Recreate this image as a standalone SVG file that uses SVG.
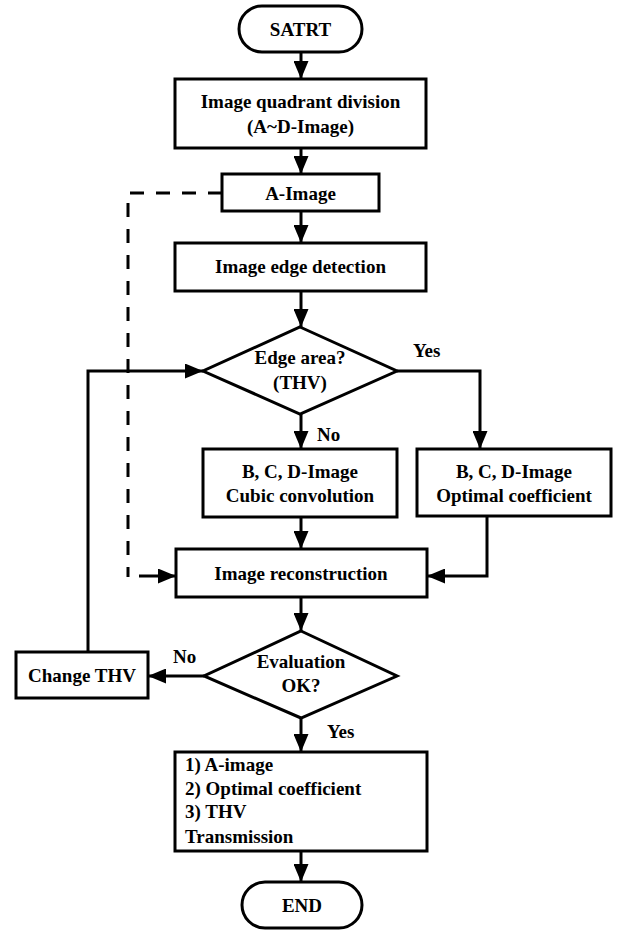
<svg xmlns="http://www.w3.org/2000/svg" width="620" height="932" viewBox="0 0 620 932">
<style>
.n{fill:#fff;stroke:#000;stroke-width:3}
text{font-family:"Liberation Serif","Times New Roman",serif;font-weight:bold;font-size:19px;fill:#000}
.c{text-anchor:middle}
.e{fill:none;stroke:#000;stroke-width:3}
.d{fill:none;stroke:#000;stroke-width:3;stroke-dasharray:14 12}
</style>
<defs>
<marker id="ah" viewBox="0 0 18 15" refX="18" refY="7.5" markerWidth="18" markerHeight="15" markerUnits="userSpaceOnUse" orient="auto"><path d="M0,0 L18,7.5 L0,15 z" fill="#000"/></marker>
</defs>
<rect width="620" height="932" fill="#fff"/>
<g id="connectors">
<path class="e" d="M301,52 V79" marker-end="url(#ah)"/>
<path class="e" d="M301,148 V174" marker-end="url(#ah)"/>
<path class="e" d="M301,211 V243" marker-end="url(#ah)"/>
<path class="e" d="M301,291 V327" marker-end="url(#ah)"/>
<path class="e" d="M397,371 H480 V449" marker-end="url(#ah)"/>
<path class="e" d="M301,414 V449" marker-end="url(#ah)"/>
<path class="e" d="M301,517 V549" marker-end="url(#ah)"/>
<path class="e" d="M487,516 V576 H427" marker-end="url(#ah)"/>
<path class="d" d="M222,193 H128 V577"/>
<path class="e" d="M139,576 H176" marker-end="url(#ah)"/>
<path class="e" d="M301,597 V631" marker-end="url(#ah)"/>
<path class="e" d="M204,676 H148" marker-end="url(#ah)"/>
<path class="e" d="M88,652 V371 H203" marker-end="url(#ah)"/>
<path class="e" d="M301,718 V752" marker-end="url(#ah)"/>
<path class="e" d="M301,851 V882" marker-end="url(#ah)"/>
<text x="413" y="357">Yes</text>
<text x="317" y="441">No</text>
<text x="173" y="663">No</text>
<text x="327" y="738">Yes</text>
</g>
<g id="start"><rect class="n" x="239" y="6" width="123" height="46" rx="23"/><text class="c" x="300.5" y="36">SATRT</text></g>
<g id="quadrant"><rect class="n" x="175" y="79" width="251" height="69"/><text class="c" x="300.5" y="108">Image quadrant division</text><text class="c" x="300.5" y="133">(A~D-Image)</text></g>
<g id="aimage"><rect class="n" x="222" y="174" width="157" height="37"/><text class="c" x="300.5" y="200">A-Image</text></g>
<g id="edgedet"><rect class="n" x="175" y="243" width="251" height="48"/><text class="c" x="300.5" y="273">Image edge detection</text></g>
<g id="edgearea"><path class="n" d="M300,327 L397,371 L300,414 L203,371 Z"/><text class="c" x="300" y="364">Edge area?</text><text class="c" x="300" y="389">(THV)</text></g>
<g id="cubic"><rect class="n" x="203" y="449" width="194" height="68"/><text class="c" x="300" y="478">B, C, D-Image</text><text class="c" x="300" y="502">Cubic convolution</text></g>
<g id="optimal"><rect class="n" x="417" y="449" width="194" height="67"/><text class="c" x="514" y="478">B, C, D-Image</text><text class="c" x="514" y="502">Optimal coefficient</text></g>
<g id="recon"><rect class="n" x="176" y="549" width="251" height="48"/><text class="c" x="301" y="580">Image reconstruction</text></g>
<g id="eval"><path class="n" d="M301,631 L397,676 L301,718 L204,676 Z"/><text class="c" x="301" y="668">Evaluation</text><text class="c" x="301" y="692">OK?</text></g>
<g id="changethv"><rect class="n" x="16" y="652" width="132" height="46"/><text class="c" x="82" y="682">Change THV</text></g>
<g id="transmit"><rect class="n" x="175" y="752" width="252" height="99"/><text x="185" y="771">1) A-image</text><text x="185" y="795">2) Optimal coefficient</text><text x="185" y="818">3) THV</text><text x="185" y="843">Transmission</text></g>
<g id="end"><rect class="n" x="242" y="882" width="120" height="46" rx="23"/><text class="c" x="302" y="912">END</text></g>
</svg>
